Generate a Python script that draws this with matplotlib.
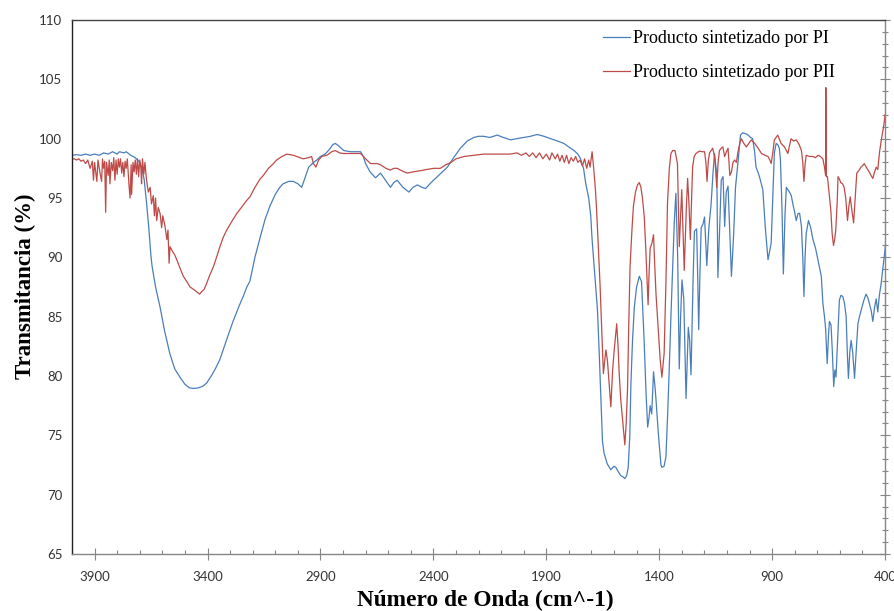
import matplotlib
matplotlib.use("Agg")
import matplotlib.pyplot as plt
from matplotlib.ticker import FixedLocator, MultipleLocator

# Espectro IR - Producto sintetizado por PI (azul)
pi_wn = [4000, 3980, 3960, 3940, 3920, 3900, 3880, 3860, 3840, 3820, 3800, 3790, 3770, 3760, 3740,
         3720, 3700, 3690, 3680, 3670, 3660, 3650, 3645, 3630, 3610, 3590, 3567, 3545, 3522, 3500,
         3480, 3462, 3440, 3420, 3404, 3380, 3360, 3345, 3320, 3300, 3285, 3260, 3240, 3226, 3212,
         3190, 3168, 3145, 3124, 3100, 3080, 3065, 3040, 3020, 3000, 2983, 2970, 2952, 2930, 2916,
         2900, 2879, 2860, 2845, 2834, 2820, 2797, 2767, 2740, 2722, 2710, 2700, 2680, 2656, 2634,
         2612, 2590, 2575, 2560, 2535, 2508, 2490, 2471, 2450, 2434, 2410, 2382, 2360, 2338, 2310,
         2280, 2250, 2221, 2200, 2177, 2150, 2117, 2090, 2058, 2030, 1999, 1970, 1940, 1910, 1881,
         1850, 1822, 1800, 1777, 1760, 1748, 1735, 1725, 1712, 1703, 1697, 1683, 1673, 1666, 1659,
         1651, 1644, 1630, 1614, 1600, 1592, 1580, 1570, 1560, 1552, 1544, 1537, 1530, 1525, 1518,
         1510, 1500, 1488, 1478, 1466, 1458, 1451, 1445, 1440, 1433, 1425, 1418, 1414, 1405, 1400,
         1392, 1388, 1378, 1370, 1362, 1355, 1348, 1340, 1333, 1326, 1318, 1311, 1305, 1299, 1291,
         1281, 1271, 1265, 1259, 1250, 1244, 1234, 1229, 1225, 1219, 1214, 1206, 1199, 1189, 1180,
         1170, 1162, 1155, 1148, 1144, 1140, 1133, 1125, 1117, 1110, 1103, 1095, 1087, 1080, 1070,
         1062, 1050, 1040, 1030, 1015, 1006, 995, 986, 978, 971, 963, 956, 948, 941, 930,
         918, 911, 904, 897, 890, 882, 875, 868, 863, 856, 850, 843, 837, 830, 823,
         815, 808, 800, 793, 785, 778, 770, 764, 759, 754, 749, 739, 729, 719, 708,
         697, 690, 682, 675, 668, 663, 656, 650, 646, 639, 633, 627, 622, 617, 610,
         602, 595, 587, 580, 572, 567, 562, 556, 550, 543, 535, 528, 520, 513, 506,
         495, 484, 476, 469, 461, 454, 446, 439, 432, 425, 417, 410, 403, 397, 392]
pi_T = [98.6, 98.65, 98.6, 98.7, 98.6, 98.7, 98.6, 98.8, 98.7, 98.9, 98.7, 98.9, 98.8, 98.9, 98.6,
        98.4, 98.0, 97.5, 96.5, 94.6, 92.5, 90.0, 89.2, 87.5, 85.8, 83.8, 81.9, 80.6, 79.9, 79.3,
        79.0, 78.95, 79.0, 79.15, 79.4, 80.1, 80.8, 81.4, 82.8, 83.9, 84.7, 85.9, 86.8, 87.5, 88.0,
        90.0, 91.6, 93.2, 94.3, 95.3, 95.9, 96.2, 96.4, 96.4, 96.2, 95.9, 96.6, 97.6, 98.0, 98.2,
        98.5, 98.7, 99.1, 99.5, 99.6, 99.4, 99.0, 98.9, 98.9, 98.9, 98.5, 97.9, 97.2, 96.7, 97.1,
        96.5, 95.9, 96.3, 96.5, 95.9, 95.5, 95.9, 96.1, 95.9, 95.8, 96.3, 96.8, 97.2, 97.6, 98.4,
        99.2, 99.8, 100.1, 100.2, 100.2, 100.1, 100.3, 100.1, 99.9, 100.0, 100.1, 100.2, 100.35, 100.2, 100.0,
        99.8, 99.6, 99.3, 99.0, 98.7, 98.3, 97.5, 96.2, 95.0, 93.5, 91.5, 88.0, 85.5, 82.2, 78.5,
        74.5, 73.5, 72.6, 72.1, 72.4, 72.3, 71.9, 71.6, 71.5, 71.35, 71.6, 72.3, 75.0, 79.4, 83.0,
        85.8, 87.5, 88.4, 87.95, 82.7, 78.5, 75.7, 76.5, 77.5, 76.8, 80.35, 79.0, 78.0, 75.5, 74.3,
        72.5, 72.3, 72.4, 73.2, 77.0, 80.8, 85.0, 89.2, 93.0, 95.4, 90.0, 80.6, 85.0, 88.1, 86.5,
        78.1, 84.1, 83.0, 80.1, 88.0, 92.2, 92.4, 88.0, 83.9, 89.0, 92.5, 92.8, 93.4, 89.3, 92.5,
        94.5, 97.0, 98.75, 97.5, 95.9, 88.3, 92.0, 96.5, 96.8, 92.6, 95.5, 96.0, 92.0, 88.4, 92.0,
        95.9, 98.2, 100.3, 100.5, 100.4, 100.3, 100.1, 100.0, 99.0, 97.6, 97.2, 96.8, 96.2, 95.7, 92.5,
        89.8, 90.5, 91.2, 95.0, 98.8, 99.6, 99.5, 99.2, 98.2, 94.0, 88.6, 93.5, 95.9, 95.7, 95.5,
        95.2, 94.5, 93.8, 93.1, 93.7, 93.7, 92.6, 90.0, 86.7, 90.0, 92.0, 93.1, 92.5, 91.5, 90.8,
        89.8, 89.2, 88.4, 86.1, 85.0, 84.0, 81.05, 83.5, 84.6, 84.3, 82.0, 79.1, 80.5, 79.9, 83.0,
        86.4, 86.8, 86.7, 86.2, 85.0, 82.0, 79.8, 82.0, 83.0, 82.0, 79.8, 82.0, 84.4, 85.0, 85.5,
        86.3, 86.9, 86.6, 86.1, 85.5, 84.6, 85.8, 86.5, 85.4, 86.8, 87.8, 89.0, 90.1, 91.2, 92.0]

# Espectro IR - Producto sintetizado por PII (rojo)
pii_wn = [4000, 3990, 3980, 3970, 3960, 3950, 3940, 3930, 3920, 3910, 3905, 3900, 3895, 3890, 3885,
          3875, 3869, 3865, 3860, 3855, 3851, 3847, 3840, 3835, 3832, 3826, 3820, 3815, 3810, 3805,
          3800, 3795, 3790, 3785, 3780, 3775, 3770, 3765, 3760, 3755, 3748, 3743, 3738, 3736, 3730,
          3725, 3720, 3715, 3710, 3705, 3700, 3695, 3692, 3688, 3682, 3677, 3670, 3662, 3654, 3648,
          3640, 3635, 3630, 3625, 3618, 3610, 3603, 3598, 3588, 3580, 3575, 3570, 3566, 3555, 3545,
          3536, 3520, 3507, 3490, 3477, 3462, 3448, 3435, 3426, 3415, 3404, 3390, 3374, 3360, 3345,
          3330, 3315, 3290, 3270, 3250, 3226, 3212, 3190, 3167, 3153, 3130, 3108, 3094, 3070, 3049,
          3020, 2990, 2976, 2952, 2939, 2931, 2920, 2908, 2894, 2871, 2850, 2834, 2815, 2797, 2760,
          2722, 2700, 2678, 2650, 2634, 2610, 2590, 2575, 2560, 2540, 2516, 2490, 2457, 2430, 2398,
          2369, 2345, 2324, 2300, 2263, 2220, 2176, 2140, 2100, 2060, 2030, 2010, 1990, 1975, 1960,
          1945, 1930, 1915, 1900, 1885, 1875, 1860, 1850, 1840, 1830, 1820, 1810, 1800, 1790, 1780,
          1770, 1760, 1750, 1740, 1730, 1721, 1712, 1706, 1697, 1690, 1683, 1677, 1668, 1662, 1651,
          1647, 1640, 1636, 1629, 1622, 1614, 1606, 1599, 1588, 1582, 1577, 1570, 1562, 1552, 1546,
          1540, 1535, 1529, 1520, 1514, 1505, 1496, 1488, 1481, 1474, 1466, 1459, 1451, 1449, 1445,
          1440, 1432, 1425, 1420, 1414, 1404, 1396, 1388, 1378, 1370, 1363, 1355, 1348, 1340, 1330,
          1319, 1315, 1311, 1305, 1300, 1294, 1289, 1280, 1274, 1268, 1262, 1256, 1252, 1245, 1237,
          1222, 1210, 1199, 1193, 1188, 1182, 1177, 1163, 1155, 1150, 1145, 1139, 1133, 1125, 1118,
          1110, 1104, 1095, 1087, 1080, 1073, 1066, 1058, 1051, 1043, 1036, 1025, 1014, 1003, 992,
          977, 962, 947, 932, 918, 910, 904, 897, 890, 875, 860, 845, 830, 823, 816,
          805, 793, 780, 770, 764, 759, 754, 749, 734, 719, 708, 697, 686, 675, 668,
          663, 662, 660, 655, 648, 640, 634, 628, 623, 618, 612, 608, 602, 596, 588,
          581, 574, 566, 560, 554, 547, 539, 532, 525, 516, 507, 500, 492, 480, 470,
          462, 454, 446, 439, 432, 424, 417, 409, 404, 400]
pii_T = [98.3, 98.3, 98.2, 98.3, 98.1, 98.2, 97.9, 98.2, 97.5, 98.1, 96.5, 98.0, 97.2, 96.4, 98.2,
         97.0, 96.4, 98.3, 97.5, 98.1, 93.8, 98.0, 96.9, 98.2, 96.2, 98.0, 97.3, 98.4, 96.5, 98.2,
         97.0, 98.3, 97.6, 98.3, 97.1, 98.0, 96.8, 98.1, 97.5, 98.3, 96.2, 95.0, 97.8, 95.3, 98.0,
         97.2, 98.2, 97.0, 98.3, 96.8, 98.2, 97.5, 96.2, 98.3, 97.0, 98.0, 96.5, 95.5, 95.9, 94.5,
         95.2, 93.5, 95.0, 93.1, 94.2, 93.7, 92.5, 93.5, 92.6, 91.5, 92.3, 89.5, 90.9, 90.5, 90.2,
         89.8, 89.0, 88.4, 87.9, 87.5, 87.3, 87.1, 86.9, 87.1, 87.3, 87.8, 88.5, 89.2, 90.0, 90.9,
         91.7, 92.3, 93.1, 93.7, 94.2, 94.8, 95.1, 95.9, 96.6, 96.9, 97.5, 97.9, 98.2, 98.5, 98.7,
         98.6, 98.4, 98.3, 98.4, 98.5, 97.9, 97.6, 98.2, 98.5, 98.6, 98.9, 99.0, 98.8, 98.75, 98.75,
         98.75, 98.3, 97.9, 97.9, 97.8, 97.5, 97.35, 97.5, 97.5, 97.3, 97.1, 97.2, 97.3, 97.4, 97.5,
         97.5, 97.8, 97.97, 98.3, 98.5, 98.6, 98.7, 98.7, 98.7, 98.7, 98.8, 98.6, 98.8, 98.5, 98.8,
         98.4, 98.8, 98.3, 98.7, 98.2, 98.8, 98.3, 98.7, 98.1, 98.6, 98.0, 98.6, 97.9, 98.4, 98.1,
         98.5, 98.0, 98.2, 97.7, 98.3, 97.5, 98.2, 97.6, 98.9, 97.5, 95.9, 94.0, 90.3, 87.8, 82.4,
         80.2, 81.5, 82.2, 81.3, 79.5, 77.4, 80.5, 82.2, 84.4, 82.5, 80.2, 78.0, 76.3, 74.2, 76.0,
         79.0, 84.0, 89.2, 92.5, 94.3, 95.5, 96.1, 96.3, 95.9, 95.0, 93.4, 90.6, 86.9, 86.0, 88.5,
         90.75, 91.2, 91.9, 89.5, 86.9, 83.9, 81.5, 79.9, 81.9, 88.0, 94.6, 97.5, 98.75, 99.0, 99.0,
         97.9, 94.5, 90.9, 93.5, 95.7, 92.0, 88.9, 94.0, 96.65, 94.5, 91.5, 95.0, 97.6, 98.5, 98.75,
         98.95, 98.9, 98.9, 98.0, 96.4, 98.2, 98.8, 99.2, 98.5, 97.5, 95.9, 98.0, 99.0, 99.2, 99.3,
         98.5, 98.8, 99.2, 96.9, 97.2, 98.0, 98.2, 98.0, 98.9, 99.6, 100.0, 99.6, 99.3, 99.6, 99.9,
         99.6, 99.2, 98.75, 98.6, 98.5, 98.2, 97.9, 98.8, 99.9, 100.3, 99.6, 99.3, 98.75, 99.4, 100.0,
         99.8, 99.9, 99.5, 99.0, 98.0, 96.4, 97.8, 98.6, 98.5, 98.5, 98.4, 98.6, 98.5, 98.3, 97.6,
         96.9, 104.3, 96.8, 96.8, 95.5, 94.0, 92.0, 91.0, 91.5, 92.3, 94.5, 96.8, 96.6, 96.3, 96.2,
         95.9, 95.0, 93.1, 94.3, 95.1, 94.0, 92.9, 95.0, 97.1, 97.3, 97.6, 97.7, 97.9, 97.5, 97.2,
         96.9, 96.65, 97.2, 97.6, 97.4, 98.9, 99.8, 100.7, 101.3, 102.0]

x_ticks = [3900, 3400, 2900, 2400, 1900, 1400, 900, 400]
y_ticks = [65, 70, 75, 80, 85, 90, 95, 100, 105, 110]

fig = plt.figure(figsize=(8.95, 6.11), dpi=100)
ax = fig.add_axes([72 / 895, 1 - 554 / 611, 813 / 895, 534 / 611])

ax.plot(pi_wn, pi_T, color="#4A7EBB", lw=0.9, label="Producto sintetizado por PI")
ax.plot(pii_wn, pii_T, color="#BE4B48", lw=0.9, label="Producto sintetizado por PII")

ax.set_xlim(4000, 400)
ax.set_ylim(65, 110)
ax.xaxis.set_major_locator(FixedLocator(x_ticks))
ax.xaxis.set_minor_locator(MultipleLocator(100))
ax.yaxis.set_major_locator(FixedLocator(y_ticks))
ax.yaxis.set_minor_locator(MultipleLocator(1))

tick_font = {"family": "Lato", "size": 9.5}
ax.set_xticklabels([str(t) for t in x_ticks], fontdict=tick_font, color="#333333")
ax.set_yticklabels([str(t) for t in y_ticks], fontdict=tick_font, color="#333333")

ax.tick_params(axis="x", which="major", direction="inout", length=8, width=0.8,
               color="#868686", pad=8)
ax.tick_params(axis="x", which="minor", direction="in", length=3, width=0.8, color="#868686")
ax.tick_params(axis="y", which="both", left=False, right=True, labelleft=True,
               direction="inout", color="#868686", width=0.8, pad=3.5)
ax.tick_params(axis="y", which="major", length=7)
ax.tick_params(axis="y", which="minor", length=5)

ax.spines["left"].set_color("#222222")
ax.spines["top"].set_color("#444444")
ax.spines["bottom"].set_color("#868686")
ax.spines["right"].set_color("#868686")
for s in ax.spines.values():
    s.set_linewidth(1.0)

fig.text(485 / 895, 1 - 600 / 611, "Número de Onda (cm^-1)", family="Liberation Serif",
         weight="bold", size=16.8, ha="center", va="center")
fig.text(25 / 895, 1 - 286 / 611, "Transmitancia (%)", family="Liberation Serif",
         weight="bold", size=16.5, ha="center", va="center", rotation=90)

leg = ax.legend(loc="upper left", bbox_to_anchor=(603 / 895, 1 - 30 / 611),
                bbox_transform=fig.transFigure, frameon=False, borderpad=0,
                borderaxespad=0, handlelength=1.5, handletextpad=0.15, labelspacing=0.95,
                prop={"family": "Liberation Serif", "size": 13})

fig.savefig("out.png", dpi=100)
